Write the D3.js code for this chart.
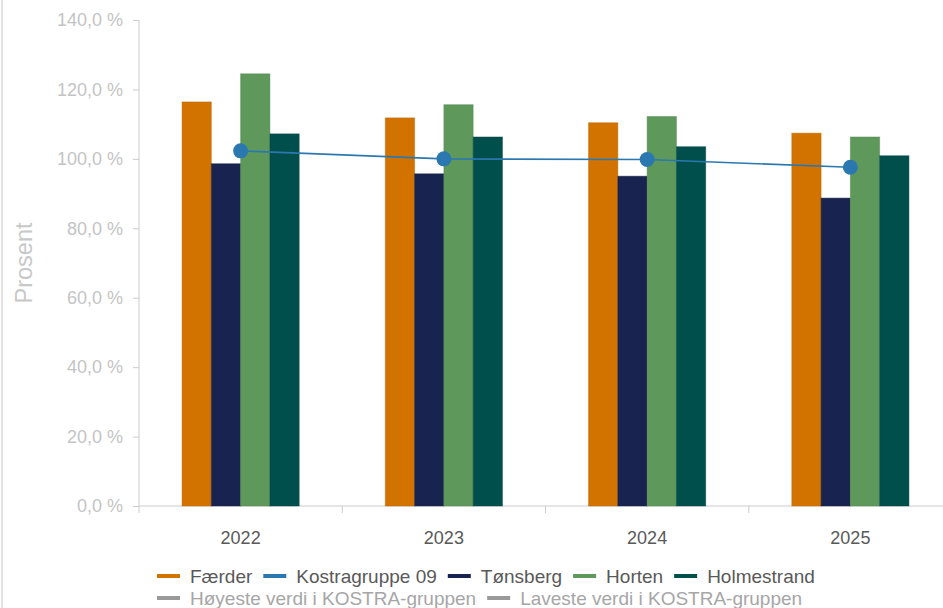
<!DOCTYPE html>
<html>
<head>
<meta charset="utf-8">
<script src="https://cdn.jsdelivr.net/npm/d3@7"></script>
<style>
  body { margin: 0; background: #fff; }
  svg { display: block; font-family: "Liberation Sans", Arial, sans-serif; }
</style>
</head>
<body>
<svg id="chart" width="943" height="608"></svg>
<script>
// data
const years = ['2022', '2023', '2024', '2025'];
const faerder = [116.4, 111.8, 110.4, 107.4];
const tonsberg = [98.6, 95.7, 95.0, 88.7];
const horten = [124.5, 115.6, 112.2, 106.3];
const holmestrand = [107.2, 106.3, 103.5, 100.9];
const kostra = [102.3, 100.0, 99.8, 97.6];
const yTicks = [0, 20, 40, 60, 80, 100, 120, 140];

const barSeries = [
    {name: 'Færder', values: faerder, color: '#d27300'},
    {name: 'Tønsberg', values: tonsberg, color: '#18244f'},
    {name: 'Horten', values: horten, color: '#5e995b'},
    {name: 'Holmestrand', values: holmestrand, color: '#014f4c'}
];

const legendRows = [
    [['Færder', '#d27300'], ['Kostragruppe 09', '#2b78b0'], ['Tønsberg', '#18244f'], ['Horten', '#5e995b'], ['Holmestrand', '#014f4c']],
    [['Høyeste verdi i KOSTRA-gruppen', '#999999'], ['Laveste verdi i KOSTRA-gruppen', '#999999']]
];

const svg = d3.select('#chart');
const plotLeft = 139, plotRight = 952, plotTop = 20, plotBottom = 506;

// norsk tallformat
const no = d3.formatLocale({decimal: ',', thousands: ' ', grouping: [3], currency: ['', ' kr']});
const fmt = v => no.format('.1f')(v) + ' %';

const x0 = d3.scaleBand().domain(years).range([plotLeft, plotRight]).paddingInner(0).paddingOuter(0);
const x1 = d3.scaleBand().domain(barSeries.map(s => s.name)).range([0, x0.bandwidth()]).paddingOuter(1.47);
const y = d3.scaleLinear().domain([0, 140]).range([plotBottom, plotTop]);

// venstre kantlinje
svg.append('line')
    .attr('x1', 2).attr('x2', 2).attr('y1', 0).attr('y2', 608)
    .attr('stroke', '#d9d9d9').attr('stroke-width', 1.5);

// y-akse
const yAxis = svg.append('g')
    .attr('transform', `translate(${plotLeft},0)`)
    .call(d3.axisLeft(y).tickValues(yTicks).tickFormat(fmt).tickSize(6).tickPadding(10));
yAxis.select('.domain').attr('stroke', '#cccccc').attr('d', `M0,${plotTop}V${plotBottom}`);
yAxis.selectAll('.tick line').attr('stroke', '#cccccc');
yAxis.selectAll('.tick text')
    .attr('fill', '#c4c4c4').attr('font-size', 18).attr('font-family', '"Liberation Sans", Arial, sans-serif');

svg.append('text')
    .attr('transform', 'translate(32,263) rotate(-90)')
    .attr('text-anchor', 'middle')
    .attr('fill', '#c8c8c8').attr('font-size', 23.5)
    .text('Prosent');

// x-akse
svg.append('line')
    .attr('x1', plotLeft).attr('x2', 943).attr('y1', plotBottom).attr('y2', plotBottom)
    .attr('stroke', '#cccccc');
svg.selectAll('.xtick')
    .data(years)
    .enter()
    .append('line')
    .attr('x1', d => x0(d)).attr('x2', d => x0(d))
    .attr('y1', plotBottom).attr('y2', plotBottom + 7)
    .attr('stroke', '#cccccc');
svg.selectAll('.xlabel')
    .data(years)
    .enter()
    .append('text')
    .attr('x', d => x0(d) + x0.bandwidth() / 2)
    .attr('y', 544)
    .attr('text-anchor', 'middle')
    .attr('fill', '#595959').attr('font-size', 18)
    .text(d => d);

// stolper
barSeries.forEach(s => {
    svg.append('g')
        .selectAll('rect')
        .data(s.values)
        .enter()
        .append('rect')
        .attr('x', (d, i) => x0(years[i]) + x1(s.name))
        .attr('y', d => y(d))
        .attr('width', x1.bandwidth())
        .attr('height', d => y(0) - y(d))
        .attr('fill', s.color)
        .attr('stroke', d3.color(s.color).darker(0.4))
        .attr('stroke-opacity', 0.45)
        .attr('stroke-width', 1);
});

// kostragruppe linje
const line = d3.line()
    .x((d, i) => x0(years[i]) + x0.bandwidth() / 2)
    .y(d => y(d));
svg.append('path')
    .datum(kostra)
    .attr('d', line)
    .attr('fill', 'none')
    .attr('stroke', '#2b78b0')
    .attr('stroke-width', 1.6);
svg.selectAll('.dot')
    .data(kostra)
    .enter()
    .append('circle')
    .attr('cx', (d, i) => x0(years[i]) + x0.bandwidth() / 2)
    .attr('cy', d => y(d))
    .attr('r', 7.5)
    .attr('fill', '#2b78b0');

// legende
const legendY = [576, 598];
legendRows.forEach((row, r) => {
    let cx = 157;
    row.forEach(([name, color]) => {
        svg.append('line')
            .attr('x1', cx).attr('x2', cx + 23)
            .attr('y1', legendY[r]).attr('y2', legendY[r])
            .attr('stroke', color).attr('stroke-width', 4);
        const t = svg.append('text')
            .attr('x', cx + 33)
            .attr('y', legendY[r] + 6.5)
            .attr('fill', r === 0 ? '#595959' : '#a6a6a6')
            .attr('font-size', 19)
            .text(name);
        cx += 33 + t.node().getComputedTextLength() + 11;
    });
});
</script>
</body>
</html>
